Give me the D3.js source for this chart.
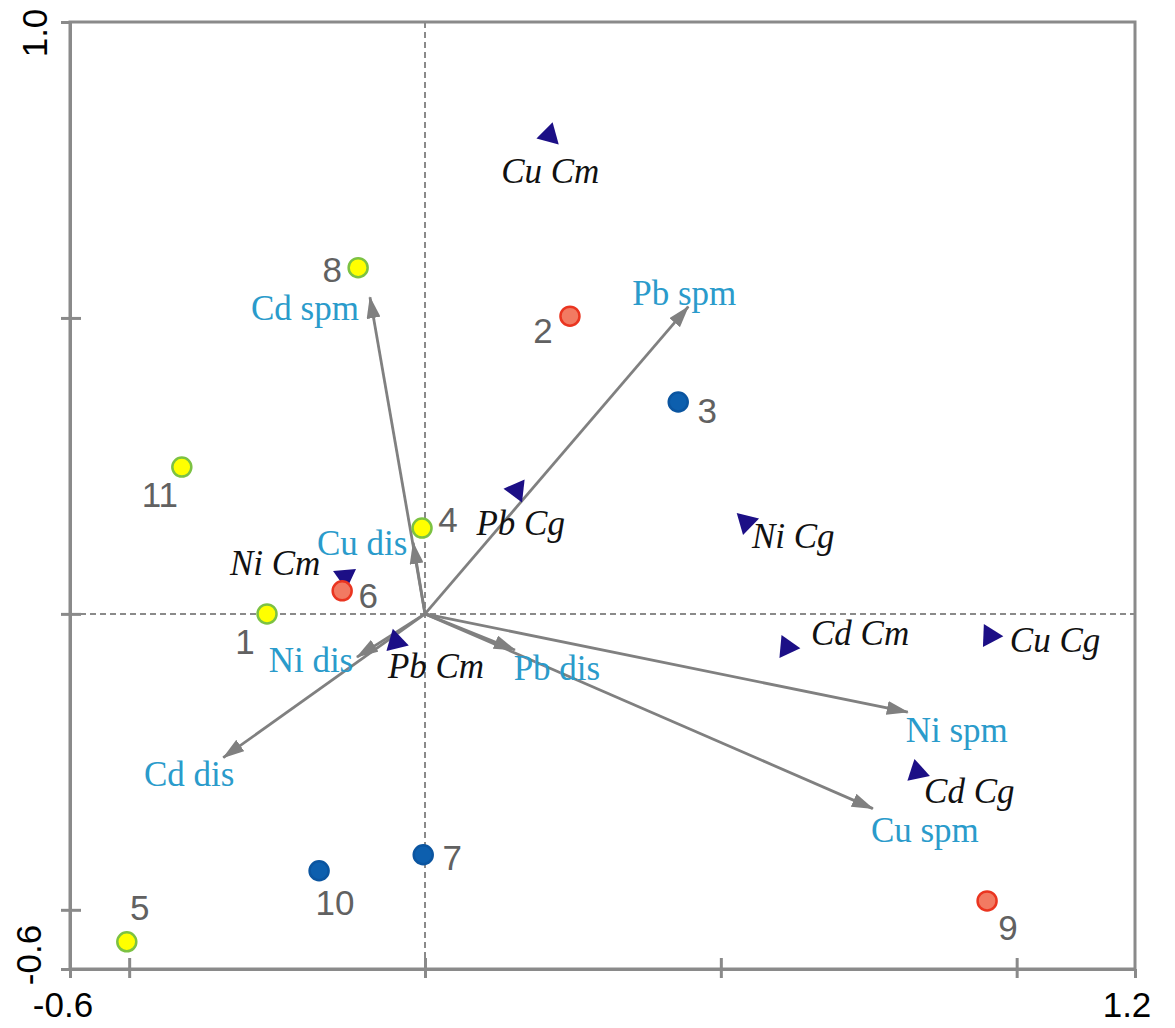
<!DOCTYPE html>
<html>
<head>
<meta charset="utf-8">
<script src="https://cdn.jsdelivr.net/npm/d3@7/dist/d3.min.js"></script>
<style>
  body { margin: 0; background: #fff; }
  svg { display: block; }
</style>
</head>
<body>
<svg id="chart" width="1175" height="1028"></svg>
<script>
// sample sites
const siteNames = ["1", "2", "3", "4", "5", "6", "7", "8", "9", "10", "11"];
const siteX = [-0.267, 0.245, 0.428, -0.005, -0.504, -0.140, -0.003, -0.113, 0.950, -0.179, -0.411];
const siteY = [0.000, 0.503, 0.358, 0.145, -0.554, 0.039, -0.407, 0.585, -0.485, -0.434, 0.248];
const siteGroup = ["g1", "g2", "g3", "g1", "g1", "g2", "g3", "g1", "g2", "g3", "g1"];

// environmental arrows
const envNames = ["Cd spm", "Pb spm", "Cu dis", "Ni dis", "Cd dis", "Pb dis", "Ni spm", "Cu spm"];
const envX = [-0.093, 0.445, -0.020, -0.115, -0.341, 0.152, 0.816, 0.757];
const envY = [0.535, 0.519, 0.120, -0.073, -0.243, -0.061, -0.166, -0.329];

// triangles
const specNames = ["Cu Cm", "Pb Cg", "Ni Cg", "Ni Cm", "Pb Cm", "Cd Cm", "Cu Cg", "Cd Cg"];
const specX = [0.210, 0.155, 0.543, -0.135, -0.049, 0.612, 0.955, 0.832];
const specY = [0.809, 0.209, 0.155, 0.063, -0.047, -0.056, -0.037, -0.267];

const xDomain = [-0.6, 1.2];
const yDomain = [-0.6, 1.0];
const xTicks = [-0.6, -0.5, 0, 0.5, 1.0, 1.2];
const yTicks = [-0.6, -0.5, 0, 0.5, 1.0];

// label placement (pixels from the mark)
const siteLabelOff = [[-22, 40], [-27, 27], [29, 21], [26, 4], [13, -22], [26, 17], [29, 15], [-26, 14], [21, 39], [16, 44], [-22, 40]];
const envLabelOff = [[-65, 23], [-4, -2], [-51, 12], [-46, 15], [-34, 28], [42, 30], [49, 30], [52, 33]];
const specLabelOff = [[1, 48], [4, 45], [47, 26], [-70, -2], [40, 36], [73, -2], [65, 16], [52, 31]];

const groupFill = { g1: "#ffff00", g2: "#f27a62", g3: "#0d5fae" };
const groupStroke = { g1: "#7cc242", g2: "#ea3520", g3: "#0b55a0" };

const svg = d3.select("#chart");
const x = d3.scaleLinear().domain(xDomain).range([70, 1135]);
const y = d3.scaleLinear().domain(yDomain).range([969, 22]);
const axisColor = "#8a8a8a";
const fmt = d => d3.format(".1f")(d).replace("\u2212", "-");

// frame
svg.append("rect")
  .attr("x", x(-0.6)).attr("y", y(1.0))
  .attr("width", x(1.2) - x(-0.6)).attr("height", y(-0.6) - y(1.0))
  .attr("fill", "none").attr("stroke", axisColor).attr("stroke-width", 3);

// axes (tick marks only)
const xAxis = svg.append("g")
  .attr("transform", `translate(0,${y(-0.6)})`)
  .call(d3.axisBottom(x).tickValues(xTicks).tickSize(9).tickSizeOuter(0).tickFormat(""));
xAxis.selectAll(".tick line")
  .attr("y1", d => (d > -0.6 && d < 1.2) ? -11 : 0);

const yAxis = svg.append("g")
  .attr("transform", `translate(${x(-0.6)},0)`)
  .call(d3.axisLeft(y).tickValues(yTicks).tickSize(9).tickSizeOuter(0).tickFormat(""));
yAxis.selectAll(".tick line")
  .attr("x1", d => (d > -0.6 && d < 1.0) ? 11 : 0);

[xAxis, yAxis].forEach(g => {
  g.select(".domain").attr("stroke", axisColor).attr("stroke-width", 3);
  g.selectAll(".tick line").attr("stroke", axisColor).attr("stroke-width", 3);
});

// end labels
const tickFont = "'Liberation Sans', Arial, sans-serif";
svg.selectAll(".xlab")
  .data([xDomain[0], xDomain[1]])
  .join("text")
  .attr("x", (d, i) => x(d) + (i === 0 ? -7 : -8))
  .attr("y", 1017)
  .attr("text-anchor", "middle")
  .attr("font-family", tickFont).attr("font-size", 35)
  .text(fmt);

svg.selectAll(".ylab")
  .data([yDomain[1], yDomain[0]])
  .join("text")
  .attr("transform", (d, i) => `translate(${i === 0 ? 47 : 41},${y(d) + (i === 0 ? 11 : -14)}) rotate(-90)`)
  .attr("text-anchor", "middle")
  .attr("font-family", tickFont).attr("font-size", 35)
  .text(fmt);

// zero lines
svg.append("line")
  .attr("x1", x(-0.6)).attr("x2", x(1.2)).attr("y1", y(0)).attr("y2", y(0))
  .attr("stroke", "#8a8a8a").attr("stroke-width", 2).attr("stroke-dasharray", "6,4");
svg.append("line")
  .attr("x1", x(0)).attr("x2", x(0)).attr("y1", y(1.0)).attr("y2", y(-0.6))
  .attr("stroke", "#8a8a8a").attr("stroke-width", 2).attr("stroke-dasharray", "6,4");

// arrows
svg.append("defs").append("marker")
  .attr("id", "head")
  .attr("markerUnits", "userSpaceOnUse")
  .attr("viewBox", "0 0 22 14")
  .attr("refX", 21).attr("refY", 7)
  .attr("markerWidth", 22).attr("markerHeight", 14)
  .attr("orient", "auto")
  .append("path")
  .attr("d", "M0,0 L22,7 L0,14 Z")
  .attr("fill", "#808080");

const envData = envNames.map((n, i) => ({ name: n, x: envX[i], y: envY[i], off: envLabelOff[i] }));
svg.selectAll(".env")
  .data(envData)
  .join("line")
  .attr("x1", x(0)).attr("y1", y(0))
  .attr("x2", d => x(d.x)).attr("y2", d => y(d.y))
  .attr("stroke", "#808080").attr("stroke-width", 2.8)
  .attr("marker-end", "url(#head)");

svg.selectAll(".envlab")
  .data(envData)
  .join("text")
  .attr("x", d => x(d.x) + d.off[0])
  .attr("y", d => y(d.y) + d.off[1])
  .attr("text-anchor", "middle")
  .attr("font-family", "'Liberation Serif', 'Times New Roman', serif")
  .attr("font-size", 35)
  .attr("fill", "#2a9bcb")
  .text(d => d.name);

// triangles
const specData = specNames.map((n, i) => ({ name: n, x: specX[i], y: specY[i], off: specLabelOff[i] }));
const tri = d3.symbol(d3.symbolTriangle, 230);
svg.selectAll(".spec")
  .data(specData)
  .join("path")
  .attr("d", tri)
  .attr("transform", d => {
    const sx = x(d.x), sy = y(d.y);
    const ang = Math.atan2(sy - y(0), sx - x(0)) * 180 / Math.PI + 90;
    return `translate(${sx},${sy}) rotate(${ang})`;
  })
  .attr("fill", "#1c0f86");

svg.selectAll(".speclab")
  .data(specData)
  .join("text")
  .attr("x", d => x(d.x) + d.off[0])
  .attr("y", d => y(d.y) + d.off[1])
  .attr("text-anchor", "middle")
  .attr("font-family", "'Liberation Serif', 'Times New Roman', serif")
  .attr("font-style", "italic")
  .attr("font-size", 35)
  .attr("fill", "#111")
  .text(d => d.name);

// sites
const siteData = siteNames.map((n, i) => ({ name: n, x: siteX[i], y: siteY[i], g: siteGroup[i], off: siteLabelOff[i] }));
svg.selectAll(".site")
  .data(siteData)
  .join("circle")
  .attr("cx", d => x(d.x)).attr("cy", d => y(d.y))
  .attr("r", 9.5)
  .attr("fill", d => groupFill[d.g])
  .attr("stroke", d => groupStroke[d.g])
  .attr("stroke-width", 2.5);

svg.selectAll(".sitelab")
  .data(siteData)
  .join("text")
  .attr("x", d => x(d.x) + d.off[0])
  .attr("y", d => y(d.y) + d.off[1])
  .attr("text-anchor", "middle")
  .attr("font-family", tickFont)
  .attr("font-size", 35)
  .attr("fill", "#616161")
  .text(d => d.name);
</script>
</body>
</html>
